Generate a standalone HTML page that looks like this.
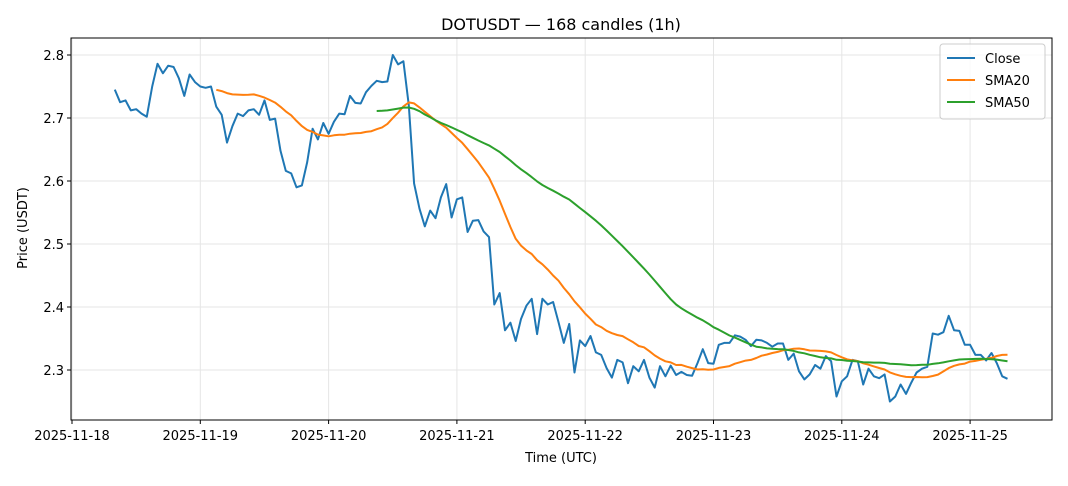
<!DOCTYPE html>
<html><head><meta charset="utf-8"><style>
body{margin:0;background:#fff;font-family:"Liberation Sans","DejaVu Sans",sans-serif}
svg text{font-family:"DejaVu Sans","Liberation Sans",sans-serif;fill:#000}
</style></head><body>
<svg id="chart" width="1068" height="481"></svg>
<script>
const close=[2.745,2.725,2.728,2.712,2.714,2.707,2.702,2.750,2.786,2.771,2.783,2.781,2.763,2.735,2.769,2.757,2.750,2.748,2.750,2.718,2.705,2.661,2.687,2.707,2.703,2.712,2.714,2.705,2.728,2.697,2.699,2.648,2.616,2.612,2.590,2.593,2.630,2.683,2.666,2.692,2.675,2.694,2.707,2.706,2.735,2.724,2.723,2.741,2.751,2.759,2.757,2.758,2.800,2.785,2.790,2.720,2.596,2.556,2.528,2.553,2.541,2.574,2.595,2.542,2.571,2.574,2.519,2.537,2.538,2.520,2.511,2.404,2.422,2.363,2.375,2.346,2.381,2.402,2.413,2.357,2.413,2.404,2.408,2.376,2.343,2.373,2.296,2.347,2.338,2.354,2.328,2.324,2.303,2.288,2.316,2.312,2.279,2.306,2.298,2.316,2.288,2.272,2.306,2.290,2.307,2.292,2.297,2.292,2.291,2.311,2.333,2.311,2.310,2.340,2.343,2.343,2.355,2.353,2.348,2.338,2.348,2.347,2.343,2.337,2.342,2.342,2.316,2.326,2.298,2.285,2.293,2.308,2.302,2.322,2.314,2.258,2.282,2.290,2.316,2.314,2.277,2.302,2.290,2.287,2.293,2.250,2.258,2.277,2.262,2.280,2.296,2.302,2.305,2.358,2.356,2.360,2.386,2.363,2.362,2.340,2.340,2.324,2.324,2.315,2.327,2.311,2.290,2.286];
const yTicks=[2.3,2.4,2.5,2.6,2.7,2.8];
const xTickLabels=["2025-11-18","2025-11-19","2025-11-20","2025-11-21","2025-11-22","2025-11-23","2025-11-24","2025-11-25"];
const startHour=8;
const L=71,R=1052,T=38,B=420;
const X=h=>72+h*128.3/24;
const Y=p=>55+(2.8-p)*630;
const svg=document.getElementById('chart');
const NS='http://www.w3.org/2000/svg';
function el(t,a,txt){const e=document.createElementNS(NS,t);for(const k in a)e.setAttribute(k,a[k]);if(txt!=null)e.textContent=txt;svg.appendChild(e);return e;}
function sma(n){const o=[];for(let i=n-1;i<close.length;i++){let s=0;for(let j=i-n+1;j<=i;j++)s+=close[j];o.push([i,s/n]);}return o;}
let g;
yTicks.forEach(v=>{g=el('line',{x1:L,x2:R,y1:Y(v),y2:Y(v),stroke:'#e5e5e5','stroke-width':1});

g=el('line',{x1:L-4,x2:L,y1:Y(v),y2:Y(v),stroke:'#000'});

g=el('text',{x:L-7,y:Y(v)+5,'text-anchor':'end','font-size':13},v.toFixed(1));
});
xTickLabels.forEach((t,d)=>{const x=X(d*24);
g=el('line',{x1:x,x2:x,y1:T,y2:B,stroke:'#e5e5e5'});

g=el('line',{x1:x,x2:x,y1:B,y2:B+4,stroke:'#000'});

g=el('text',{x:x,y:B+20,'text-anchor':'middle','font-size':13},t);
});
function line(pts,color,name){const p=el('polyline',{points:pts.map(([i,v])=>X(startHour+i).toFixed(1)+','+Y(v).toFixed(1)).join(' '),fill:'none',stroke:color,'stroke-width':2,'stroke-linejoin':'round'});
}
line(close.map((v,i)=>[i,v]),'#1f77b4','close-line');
line(sma(20),'#ff7f0e','sma20-line');
line(sma(50),'#2ca02c','sma50-line');
g=el('rect',{x:L,y:T,width:R-L,height:B-T,fill:'none',stroke:'#000','stroke-width':1});

g=el('text',{x:561,y:30,'text-anchor':'middle','font-size':16},'DOTUSDT — 168 candles (1h)');

g=el('text',{x:561,y:462,'text-anchor':'middle','font-size':13},'Time (UTC)');

g=el('text',{x:27,y:228,'text-anchor':'middle','font-size':13,transform:'rotate(-90 27 228)'},'Price (USDT)');

g=el('rect',{x:940,y:44,width:105,height:75,rx:3,fill:'#fff','fill-opacity':0.8,stroke:'#ccc'});

[['Close','#1f77b4'],['SMA20','#ff7f0e'],['SMA50','#2ca02c']].forEach(([n,c],k)=>{const y=58+k*22;
g=el('line',{x1:947,x2:975,y1:y,y2:y,stroke:c,'stroke-width':2});

g=el('text',{x:985,y:y+5,'font-size':13},n);
});
</script>
</body></html>
